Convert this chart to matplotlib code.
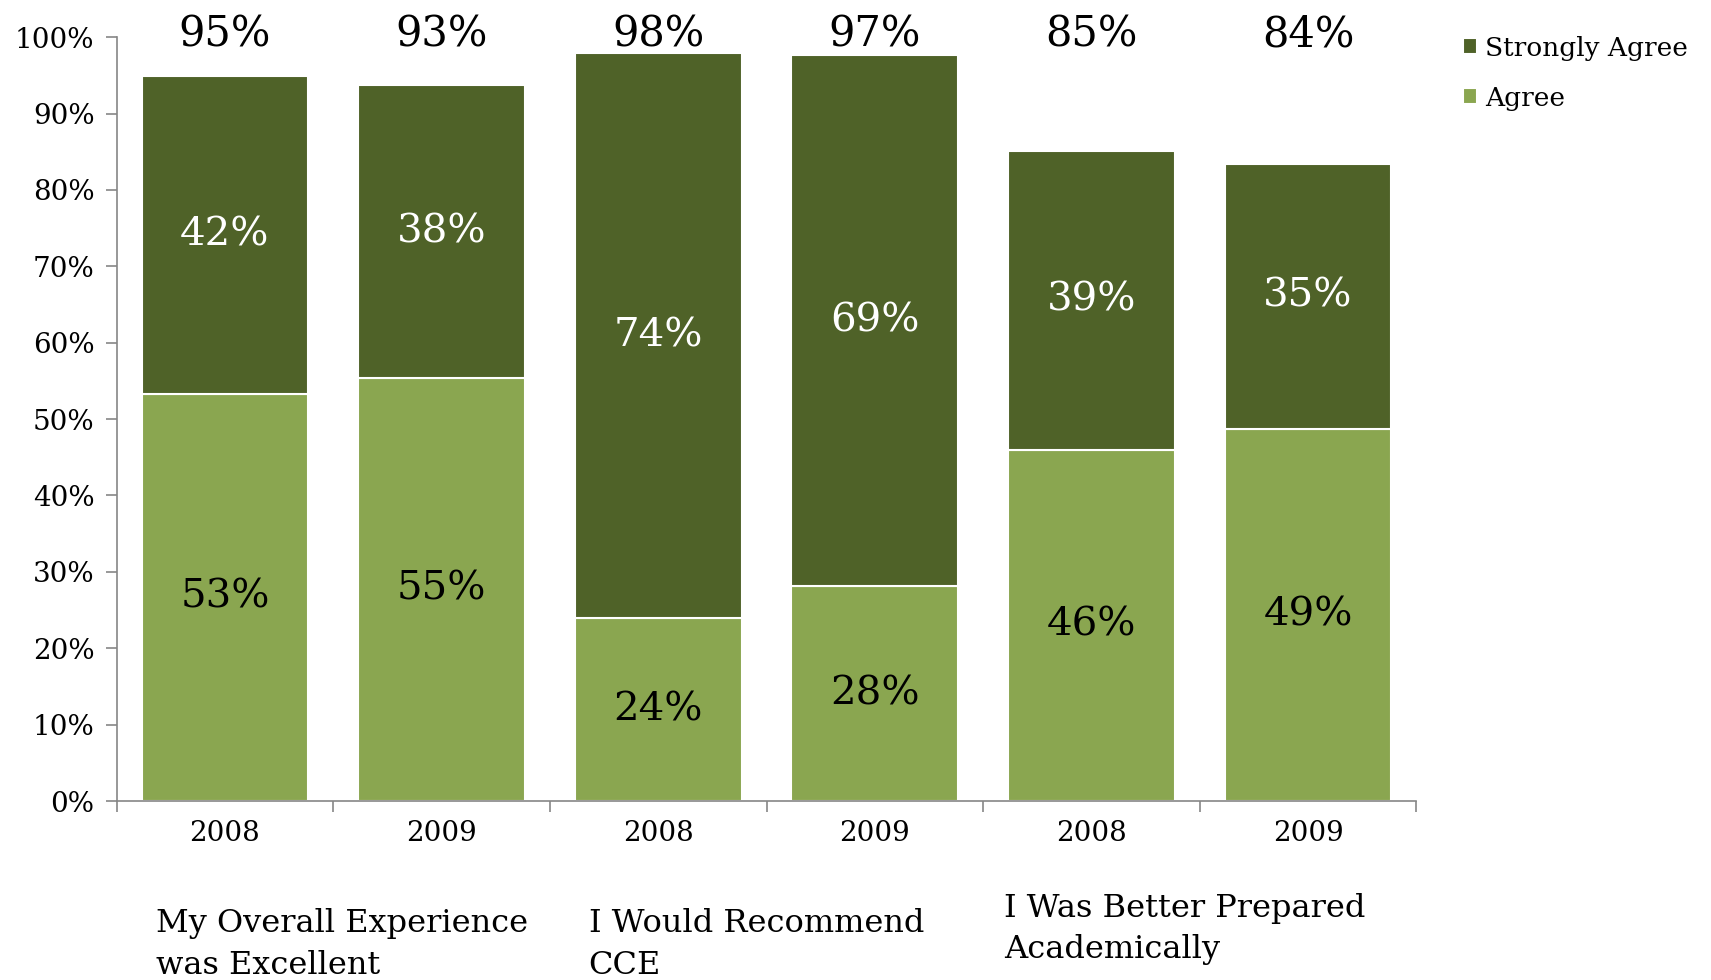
import numpy as np
import matplotlib
matplotlib.use("Agg")
import matplotlib.pyplot as plt

# data
years = ["2008", "2009", "2008", "2009", "2008", "2009"]
groups = ["My Overall Experience\nwas Excellent", "I Would Recommend\nCCE", "I Was Better Prepared\nAcademically"]
agree = [53.3, 55.4, 23.9, 28.1, 46.0, 48.7]
strongly = [41.6, 38.3, 74.0, 69.5, 39.1, 34.7]
agree_labels = ["53%", "55%", "24%", "28%", "46%", "49%"]
strongly_labels = ["42%", "38%", "74%", "69%", "39%", "35%"]
total_labels = ["95%", "93%", "98%", "97%", "85%", "84%"]

dark = "#4F6228"
light = "#8AA650"
axis_col = "#868686"

plt.rcParams['font.family'] = ['DejaVu Serif']

fig = plt.figure(figsize=(17.11, 9.8), dpi=100)
ax = fig.add_axes([0.0682, 0.1826, 0.7596, 0.7795])

x = np.arange(len(years))
agree = np.array(agree)
strongly = np.array(strongly)

ax.bar(x, agree, width=0.77, color=light, edgecolor="white", linewidth=1.5, label="Agree")
ax.bar(x, strongly, width=0.77, bottom=agree, color=dark, edgecolor="white", linewidth=1.5,
       label="Strongly Agree")

for i in range(len(x)):
    ax.text(x[i], agree[i] / 2, agree_labels[i], ha="center", va="center", fontsize=29, color="black")
    ax.text(x[i], agree[i] + strongly[i] / 2, strongly_labels[i], ha="center", va="center",
            fontsize=29, color="white")
    ax.text(x[i], 100.3, total_labels[i], ha="center", va="center", fontsize=30, color="black",
            clip_on=False)

ax.set_xlim(-0.5, 5.5)
ax.set_ylim(0, 100)
ax.set_yticks(np.arange(0, 101, 10))
ax.set_yticklabels([f"{v}%" for v in range(0, 101, 10)], fontsize=20)
ax.set_xticks(x)
ax.set_xticklabels(years, fontsize=20)
ax.set_xticks(np.arange(-0.5, 6, 1), minor=True)
ax.tick_params(axis="x", which="major", length=0, pad=14)
ax.tick_params(axis="x", which="minor", length=8, color=axis_col, width=1.2)
ax.tick_params(axis="y", length=8, color=axis_col, width=1.2, pad=8)

for s in ["top", "right"]:
    ax.spines[s].set_visible(False)
for s in ["left", "bottom"]:
    ax.spines[s].set_color(axis_col)
    ax.spines[s].set_linewidth(1.2)

# group captions under the axis
fig.text(0.0912, 0.036, groups[0], ha="left", va="center", fontsize=23, linespacing=1.45)
fig.text(0.344, 0.036, groups[1], ha="left", va="center", fontsize=23, linespacing=1.45)
fig.text(0.587, 0.052, groups[2], ha="left", va="center", fontsize=23, linespacing=1.45)

handles, labels = ax.get_legend_handles_labels()
fig.legend(handles[::-1], labels[::-1], loc="upper left", bbox_to_anchor=(0.841, 0.988),
           frameon=False, fontsize=19, handlelength=0.55, handleheight=0.55, handletextpad=0.3,
           labelspacing=0.95)

fig.savefig("out.png", dpi=100)
